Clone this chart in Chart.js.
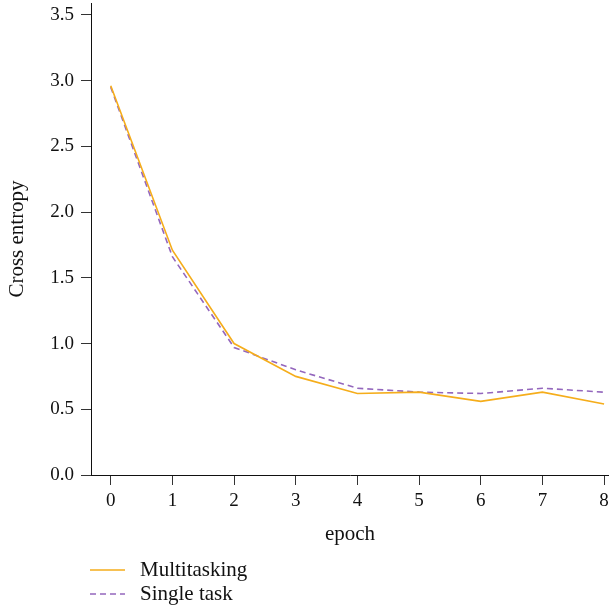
<!DOCTYPE html>
<html>
<head>
<meta charset="utf-8">
<script src="https://cdn.jsdelivr.net/npm/chart.js@4.4.1/dist/chart.umd.min.js"></script>
<style>
  html, body { margin: 0; padding: 0; background: #fff; }
  #wrap { width: 609px; height: 610px; }
</style>
</head>
<body>
<div id="wrap"><canvas id="chart"></canvas></div>
<script>
// datos
const epochs = [0, 1, 2, 3, 4, 5, 6, 7, 8];
const multitasking = [2.96, 1.71, 1.00, 0.75, 0.62, 0.63, 0.56, 0.63, 0.54];
const singleTask = [2.95, 1.66, 0.97, 0.80, 0.66, 0.63, 0.62, 0.66, 0.63];
const yTicks = [0, 0.5, 1.0, 1.5, 2.0, 2.5, 3.0, 3.5];
const seriesNames = ['Multitasking', 'Single task'];

const serif = "'Liberation Serif', 'DejaVu Serif', serif";

// leyenda dibujada a mano (una columna, abajo a la izquierda)
const leyendaAbajo = {
    id: 'leyendaAbajo',
    afterDraw(chart) {
        const ctx = chart.ctx;
        const x0 = chart.chartArea.left - 1;
        chart.data.datasets.forEach((ds, i) => {
            const y = 570 + i * 24;
            ctx.save();
            ctx.strokeStyle = ds.borderColor;
            ctx.lineWidth = ds.borderWidth;
            ctx.setLineDash(ds.borderDash || []);
            ctx.beginPath();
            ctx.moveTo(x0, y);
            ctx.lineTo(x0 + 35, y);
            ctx.stroke();
            ctx.setLineDash([]);
            ctx.fillStyle = '#111';
            ctx.font = '21px ' + serif;
            ctx.textBaseline = 'middle';
            ctx.fillText(ds.label, x0 + 50, y);
            ctx.restore();
        });
    }
};

new Chart(document.getElementById('chart'), {
    type: 'line',
    data: {
        labels: epochs,
        datasets: [{
            label: seriesNames[0],
            data: epochs.map((e, i) => ({ x: e, y: multitasking[i] })),
            borderColor: '#f5ad1b',
            borderWidth: 1.6,
            pointRadius: 0,
            tension: 0
        }, {
            label: seriesNames[1],
            data: epochs.map((e, i) => ({ x: e, y: singleTask[i] })),
            borderColor: '#9467bd',
            borderWidth: 1.6,
            borderDash: [6, 4],
            pointRadius: 0,
            tension: 0
        }]
    },
    options: {
        responsive: true,
        maintainAspectRatio: false,
        animation: false,
        layout: { padding: { top: 3, right: 0, bottom: 55, left: 0 } },
        plugins: { legend: { display: false }, tooltip: { enabled: false } },
        scales: {
            x: {
                type: 'linear',
                min: -0.32,
                max: 8.08,
                afterBuildTicks: s => { s.ticks = epochs.map(v => ({ value: v })); },
                afterFit: s => { s.height = 80; s.paddingLeft = 0; s.paddingRight = 0; },
                grid: { drawOnChartArea: false, tickLength: 10, color: '#333', tickWidth: 1 },
                border: { color: '#111', width: 1 },
                ticks: { color: '#111', font: { family: serif, size: 19 }, padding: 5, maxRotation: 0 },
                title: { display: true, text: 'epoch', color: '#111', font: { family: serif, size: 21 }, padding: { top: 0, bottom: 8 } }
            },
            y: {
                min: 0,
                max: 3.59,
                afterBuildTicks: s => { s.ticks = yTicks.map(v => ({ value: v })); },
                afterFit: s => { s.width = 91; s.paddingTop = 0; s.paddingBottom = 0; },
                grid: { drawOnChartArea: false, tickLength: 10, color: '#333', tickWidth: 1 },
                border: { color: '#111', width: 1 },
                ticks: { color: '#111', font: { family: serif, size: 19 }, padding: 7, callback: v => v.toFixed(1) },
                title: { display: true, text: 'Cross entropy', color: '#111', font: { family: serif, size: 21 }, padding: { top: 5, bottom: 0 } }
            }
        }
    },
    plugins: [leyendaAbajo]
});
</script>
</body>
</html>
